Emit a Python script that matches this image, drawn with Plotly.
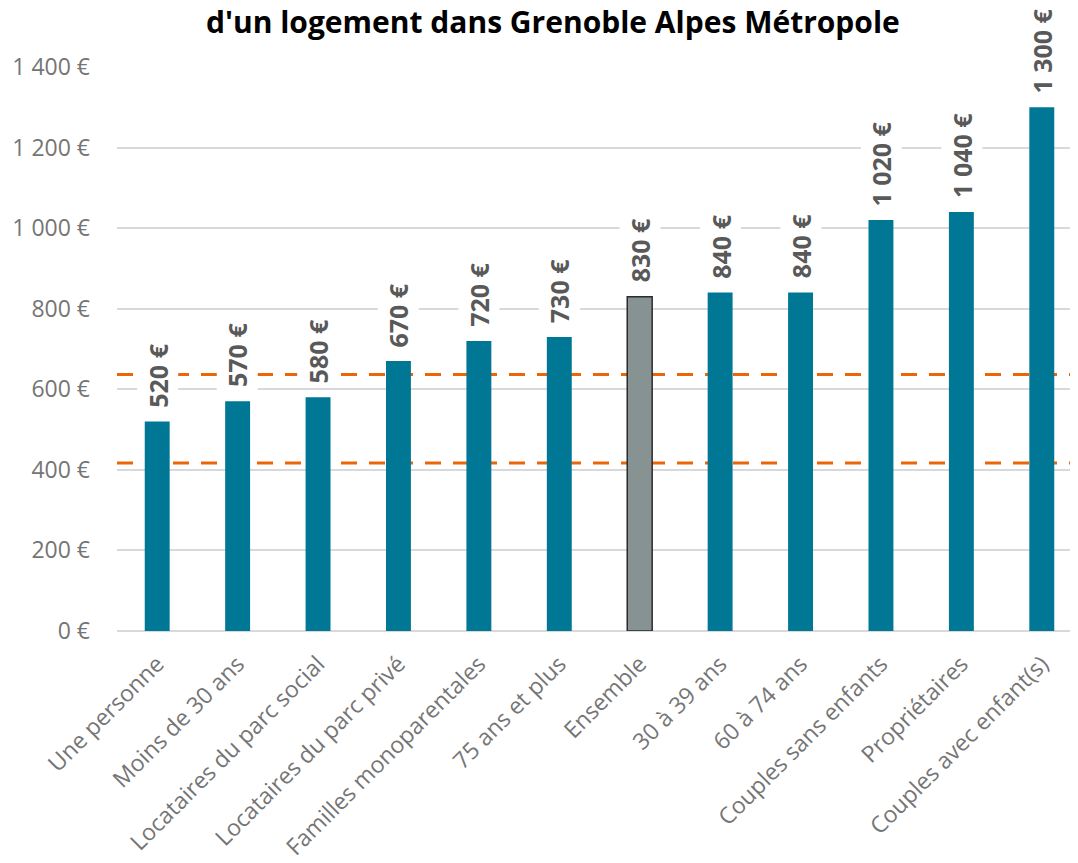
import plotly.graph_objects as go

# données
categories = ["Une personne", "Moins de 30 ans", "Locataires du parc social",
              "Locataires du parc privé", "Familles monoparentales", "75 ans et plus",
              "Ensemble", "30 à 39 ans", "60 à 74 ans", "Couples sans enfants",
              "Propriétaires", "Couples avec enfant(s)"]
valeurs = [520, 570, 580, 670, 720, 730, 830, 840, 840, 1020, 1040, 1300]
etiquettes = ["520 €", "570 €", "580 €", "670 €", "720 €", "730 €", "830 €",
              "840 €", "840 €", "1 020 €", "1 040 €", "1 300 €"]
seuils = [637, 417]
tick_vals = [0, 200, 400, 600, 800, 1000, 1200, 1400]
tick_text = ["0 €", "200 €", "400 €", "600 €", "800 €", "1 000 €", "1 200 €", "1 400 €"]

bleu = "#007895"
gris = "#879293"
couleurs = [gris if c == "Ensemble" else bleu for c in categories]
contours = ["#2b2b2b" if c == "Ensemble" else bleu for c in categories]
largeurs = [1.5 if c == "Ensemble" else 0 for c in categories]

fig = go.Figure()
fig.add_trace(go.Bar(x=categories, y=valeurs, width=0.31,
                     marker=dict(color=couleurs, line=dict(color=contours, width=largeurs)),
                     hoverinfo="x+y"))

# lignes pointillées orange
for s in seuils:
    fig.add_shape(type="line", xref="paper", x0=0, x1=1, yref="y", y0=s, y1=s,
                  line=dict(color="#ec6608", width=3, dash="16px,12px"), layer="below")

# étiquettes de valeurs
for c, v, t in zip(categories, valeurs, etiquettes):
    fig.add_annotation(x=c, y=v, text="<b>" + t + "</b>", showarrow=False, textangle=-90,
                       yanchor="bottom", yshift=10, bgcolor="white", borderpad=3,
                       font=dict(family="Open Sans", size=25, color="#595959"))

# titre (seule la dernière ligne est visible)
fig.add_annotation(text="<b>d'un logement dans Grenoble Alpes Métropole</b>",
                   xref="paper", yref="paper", x=0.452, y=1, yanchor="middle", yshift=46,
                   showarrow=False,
                   font=dict(family="Open Sans", size=30, color="black"))

fig.update_layout(
    width=1078, height=863,
    margin=dict(l=109, r=4, t=59, b=240),
    plot_bgcolor="white", paper_bgcolor="white",
    showlegend=False,
    font=dict(family="Open Sans", size=23, color="#757575"),
)
fig.update_xaxes(tickangle=-45, showgrid=False, showline=False, ticks="", automargin=False,
                 ticklabelstandoff=14, tickfont=dict(size=23, color="#757575"))
fig.update_yaxes(range=[0, 1400], tickvals=tick_vals, ticktext=tick_text, automargin=False,
                 showgrid=True, gridcolor="#d9d9d9", gridwidth=1.5,
                 zeroline=True, zerolinecolor="#d9d9d9", zerolinewidth=1.5,
                 ticklabelstandoff=26, tickfont=dict(size=23, color="#757575"))

fig.write_html("out.html")
